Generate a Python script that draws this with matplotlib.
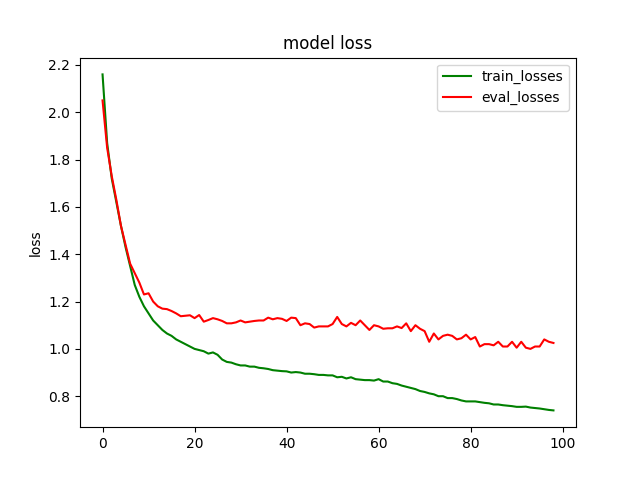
import matplotlib
matplotlib.use("Agg")
import matplotlib.pyplot as plt

train_losses = [2.16, 1.87, 1.72, 1.62, 1.52, 1.43, 1.35, 1.27, 1.22, 1.18,
                1.15, 1.12, 1.10, 1.08, 1.065, 1.055, 1.04, 1.03, 1.02, 1.01,
                1.00, 0.995, 0.99, 0.98, 0.985, 0.975, 0.955, 0.945, 0.942, 0.935,
                0.93, 0.93, 0.925, 0.925, 0.92, 0.918, 0.915, 0.91, 0.908, 0.906,
                0.905, 0.90, 0.902, 0.90, 0.895, 0.895, 0.893, 0.89, 0.89, 0.888,
                0.888, 0.88, 0.882, 0.875, 0.88, 0.872, 0.87, 0.868, 0.868, 0.866,
                0.872, 0.862, 0.862, 0.855, 0.852, 0.845, 0.84, 0.835, 0.83, 0.822,
                0.818, 0.812, 0.808, 0.80, 0.80, 0.792, 0.792, 0.788, 0.782, 0.778,
                0.778, 0.778, 0.775, 0.772, 0.77, 0.765, 0.765, 0.762, 0.76, 0.758,
                0.755, 0.755, 0.756, 0.752, 0.75, 0.748, 0.745, 0.742, 0.74]

eval_losses = [2.05, 1.85, 1.73, 1.63, 1.52, 1.44, 1.36, 1.32, 1.28, 1.23,
               1.235, 1.20, 1.18, 1.17, 1.168, 1.16, 1.15, 1.138, 1.14, 1.142,
               1.13, 1.143, 1.115, 1.122, 1.13, 1.125, 1.118, 1.108, 1.108, 1.112,
               1.12, 1.112, 1.115, 1.118, 1.12, 1.12, 1.132, 1.125, 1.13, 1.127,
               1.118, 1.132, 1.13, 1.10, 1.108, 1.105, 1.09, 1.095, 1.095, 1.095,
               1.105, 1.135, 1.105, 1.095, 1.11, 1.10, 1.12, 1.10, 1.08, 1.10,
               1.095, 1.085, 1.087, 1.087, 1.095, 1.088, 1.108, 1.075, 1.10, 1.085,
               1.075, 1.03, 1.065, 1.04, 1.055, 1.06, 1.055, 1.04, 1.045, 1.06,
               1.04, 1.05, 1.01, 1.02, 1.02, 1.015, 1.03, 1.01, 1.01, 1.03,
               1.005, 1.03, 1.005, 1.00, 1.01, 1.01, 1.04, 1.03, 1.025]

fig, ax = plt.subplots(figsize=(6.4, 4.8), dpi=100)
ax.plot(train_losses, color="green", label="train_losses")
ax.plot(eval_losses, color="red", label="eval_losses")
ax.set_title("model loss")
ax.set_ylabel("loss")
ax.legend(loc="upper right")
fig.savefig("out.png")
